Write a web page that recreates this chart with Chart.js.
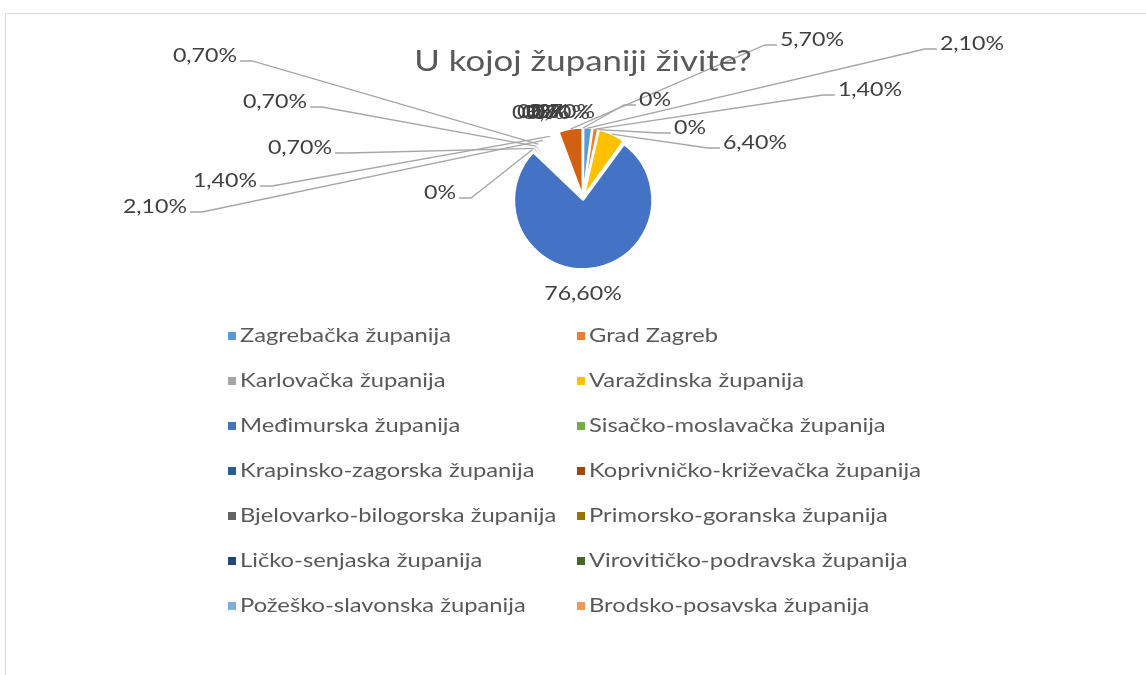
<!DOCTYPE html>
<html>
<head>
<meta charset="utf-8">
<script src="https://cdn.jsdelivr.net/npm/chart.js@4.4.1/dist/chart.umd.min.js"></script>
<style>
  html, body { margin: 0; padding: 0; background: #fff; overflow: hidden; }
  #wrap { position: relative; width: 1146px; height: 675px; }
  #frame { position: absolute; left: 5px; top: 13px; width: 1200px; height: 700px; border: 1px solid #d9d9d9; }
  #pie { position: absolute; left: 0; top: 0; }
</style>
</head>
<body>
<div id="wrap">
  <div id="frame"></div>
  <canvas id="pie" width="1146" height="675"></canvas>
</div>
<script>
const naslov = 'U kojoj županiji živite?';
// zupanije (slices 15-21 are not listed in the legend of the original)
const zupanije = [
    'Zagrebačka županija', 'Grad Zagreb',
    'Karlovačka županija', 'Varaždinska županija',
    'Međimurska županija', 'Sisačko-moslavačka županija',
    'Krapinsko-zagorska županija', 'Koprivničko-križevačka županija',
    'Bjelovarko-bilogorska županija', 'Primorsko-goranska županija',
    'Ličko-senjaska županija', 'Virovitičko-podravska županija',
    'Požeško-slavonska županija', 'Brodsko-posavska županija',
    'Zadarska županija', 'Osječko-baranjska županija',
    'Šibensko-kninska županija', 'Vukovarsko-srijemska županija',
    'Splitsko-dalmatinska županija', 'Istarska županija',
    'Dubrovačko-neretvanska županija'
];
// postotak odgovora
const postoci = [2.1, 1.4, 0, 6.4, 76.6, 0, 0.7, 0.7, 0, 0, 0, 0, 0, 0, 0.7, 2.1, 1.4, 0.7, 0.7, 5.7, 0];
const legendCount = 14;

const boje = [
    '#5B9BD5', '#ED7D31', '#A5A5A5', '#FFC000', '#4472C4', '#70AD47',
    '#255E91', '#9E480E', '#636363', '#997300', '#264478', '#43682B',
    '#7CAFDD', '#F1975A',
    '#FFFFFF', '#FFFFFF', '#FFFFFF', '#FFFFFF', '#FFFFFF', // bez ispune u originalu
    '#D26012', '#848484'
];

// where each data label sits, relative to the pie centre (dragged labels)
const labelOffsets = [
    [389, -154], [287, -108], [107, -70], [172, -55], [0, 96], [-143, -5],
    [-283, -50], [-308, -96],
    [-55, -85], [-50, -86], [-45, -85], [-40, -86], [-35, -85], [-30, -86],
    [-378, -142], [-428, 9], [-358, -17],
    [-25, -85], [-20, -86],
    [229, -158], [72, -98]
];

const fontFam = 'Lato, "Open Sans", sans-serif';

function fmt(v) {
    if (v === 0) return '0%';
    return v.toFixed(2).replace('.', ',') + '%';
}

// the original text is a little wider than Lato, so stretch it sideways
function stretchText(c, txt, x, y, sx, align) {
    c.save();
    c.translate(x, y);
    c.scale(sx, 1);
    c.textAlign = align;
    c.fillText(txt, 0, 0);
    c.restore();
}

const excelLabels = {
    id: 'excelLabels',
    afterDatasetsDraw(chart) {
        const c = chart.ctx;
        const meta = chart.getDatasetMeta(0);
        const vals = chart.data.datasets[0].data;
        const sx = 1.22;
        c.save();
        c.font = '19px ' + fontFam;
        c.textBaseline = 'middle';
        meta.data.forEach(function (arc, i) {
            const p = arc.getProps(['x', 'y', 'startAngle', 'endAngle', 'outerRadius'], true);
            const mid = (p.startAngle + p.endAngle) / 2;
            const r = p.outerRadius + 3;
            const px = p.x + Math.cos(mid) * r;
            const py = p.y + Math.sin(mid) * r;
            const lx = p.x + labelOffsets[i][0];
            const ly = p.y + labelOffsets[i][1];
            const txt = fmt(vals[i]);
            const w = c.measureText(txt).width * sx;
            if (Math.hypot(lx - px, ly - py) > 45) {
                const dir = lx > px ? 1 : -1;
                const sxp = lx - dir * (w / 2 + 3);
                const sy = ly + 5;
                const ex = sxp - dir * 12;
                c.strokeStyle = '#A6A6A6';
                c.lineWidth = 1.3;
                c.beginPath();
                c.moveTo(px, py);
                c.lineTo(ex, sy);
                c.lineTo(sxp, sy);
                c.stroke();
            }
            c.fillStyle = '#404040';
            stretchText(c, txt, lx, ly, sx, 'center');
        });
        c.restore();
    }
};

const excelTitleLegend = {
    id: 'excelTitleLegend',
    afterDraw(chart) {
        const c = chart.ctx;
        const area = chart.chartArea;
        c.save();
        c.textBaseline = 'middle';
        c.fillStyle = '#595959';
        c.font = '29px ' + fontFam;
        stretchText(c, naslov, (area.left + area.right) / 2, 62, 1.2, 'center');

        const colX = [228, 577];
        c.font = '19px ' + fontFam;
        for (let i = 0; i < legendCount; i++) {
            const x = colX[i % 2];
            const y = 336 + Math.floor(i / 2) * 45;
            c.fillStyle = boje[i];
            c.fillRect(x, y - 4, 8, 8);
            c.fillStyle = '#595959';
            stretchText(c, chart.data.labels[i], x + 12, y, 1.25, 'left');
        }
        c.restore();
    }
};

new Chart(document.getElementById('pie'), {
    type: 'pie',
    data: {
        labels: zupanije,
        datasets: [{
            data: postoci,
            backgroundColor: boje,
            borderColor: '#FFFFFF',
            borderWidth: 2,
            offset: 8
        }]
    },
    options: {
        responsive: false,
        animation: false,
        devicePixelRatio: 1,
        layout: { padding: { top: 126, left: 20, right: 0, bottom: 405 } },
        plugins: {
            legend: { display: false },
            tooltip: { enabled: false },
            title: { display: false }
        }
    },
    plugins: [excelLabels, excelTitleLegend]
});
</script>
</body>
</html>
